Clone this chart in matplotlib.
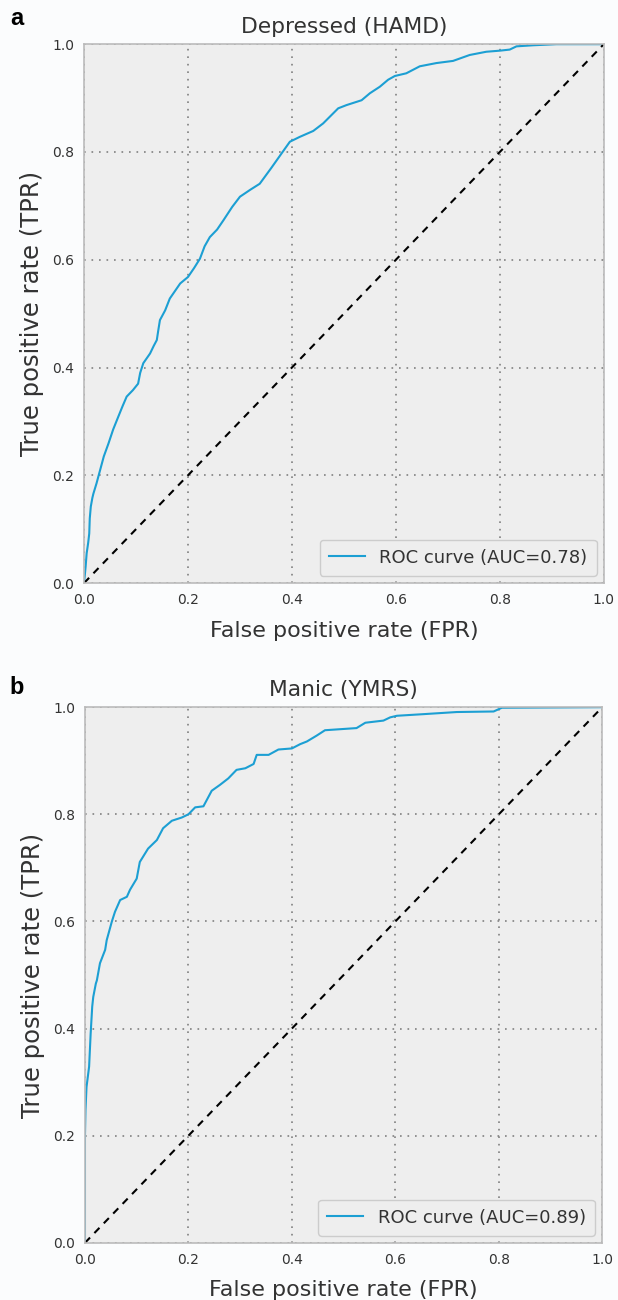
import numpy as np
import matplotlib
matplotlib.use('Agg')
import matplotlib.pyplot as plt

# ROC points
fpr_hamd = [0, 0.003, 0.005, 0.008, 0.010, 0.011, 0.013, 0.016, 0.018, 0.024, 0.031, 0.038,
            0.047, 0.056, 0.066, 0.074, 0.082, 0.094, 0.104, 0.108, 0.114, 0.127, 0.134, 0.14,
            0.143, 0.146, 0.156, 0.165, 0.185, 0.2, 0.212, 0.223, 0.232, 0.242, 0.256, 0.268,
            0.285, 0.3, 0.32, 0.338, 0.36, 0.382, 0.396, 0.415, 0.441, 0.46, 0.489, 0.505,
            0.534, 0.55, 0.569, 0.585, 0.598, 0.62, 0.646, 0.678, 0.71, 0.742, 0.774, 0.8,
            0.819, 0.832, 0.864, 0.909, 1.0]
tpr_hamd = [0, 0.03, 0.055, 0.075, 0.092, 0.12, 0.142, 0.158, 0.166, 0.185, 0.21, 0.235,
            0.259, 0.285, 0.309, 0.328, 0.346, 0.358, 0.37, 0.39, 0.408, 0.426, 0.44, 0.451,
            0.47, 0.488, 0.506, 0.528, 0.556, 0.568, 0.585, 0.602, 0.625, 0.642, 0.656, 0.673,
            0.698, 0.717, 0.73, 0.741, 0.77, 0.80, 0.819, 0.828, 0.839, 0.853, 0.881, 0.887,
            0.896, 0.909, 0.921, 0.934, 0.941, 0.946, 0.959, 0.965, 0.969, 0.98, 0.986, 0.988,
            0.99, 0.996, 0.998, 1.0, 1.0]

fpr_ymrs = [0, 0, 0.001, 0.003, 0.008, 0.011, 0.014, 0.016, 0.021, 0.023, 0.029, 0.039,
            0.042, 0.052, 0.058, 0.068, 0.081, 0.087, 0.1, 0.106, 0.122, 0.139, 0.151, 0.168,
            0.187, 0.2, 0.213, 0.229, 0.245, 0.261, 0.277, 0.293, 0.31, 0.326, 0.332, 0.355,
            0.374, 0.4, 0.416, 0.429, 0.448, 0.464, 0.525, 0.542, 0.577, 0.59, 0.603, 0.654,
            0.719, 0.79, 0.806, 1.0]
tpr_ymrs = [0, 0.2, 0.248, 0.291, 0.329, 0.391, 0.441, 0.459, 0.484, 0.49, 0.522, 0.547,
            0.565, 0.6, 0.618, 0.64, 0.646, 0.659, 0.68, 0.711, 0.736, 0.752, 0.774, 0.788,
            0.794, 0.8, 0.813, 0.815, 0.844, 0.855, 0.867, 0.883, 0.886, 0.894, 0.911, 0.911,
            0.921, 0.923, 0.931, 0.936, 0.947, 0.957, 0.961, 0.971, 0.975, 0.981, 0.984, 0.987,
            0.991, 0.992, 0.999, 1.0]

titles = ['Depressed (HAMD)', 'Manic (YMRS)']
aucs = [0.78, 0.89]
panel_tags = ['a', 'b']
ticks = [0.0, 0.2, 0.4, 0.6, 0.8, 1.0]

line_color = '#1c9fd3'
text_color = '#333333'

plt.rcParams['font.family'] = 'DejaVu Sans'
plt.rcParams['text.color'] = text_color
plt.rcParams['axes.labelcolor'] = text_color
plt.rcParams['xtick.color'] = text_color
plt.rcParams['ytick.color'] = text_color

fig = plt.figure(figsize=(6.18, 13.0), dpi=100, facecolor='#fbfcfd')

# axes rectangles in figure fraction (left, bottom, width, height)
rects = [[0.136, 0.5515, 0.841, 0.4145],
         [0.1375, 0.044, 0.837, 0.412]]
tag_y = [0.986, 0.4715]

curves = [(fpr_hamd, tpr_hamd), (fpr_ymrs, tpr_ymrs)]

for i in range(2):
    ax = fig.add_axes(rects[i])
    ax.set_facecolor('#eeeeee')
    fpr, tpr = curves[i]
    ax.plot(fpr, tpr, color=line_color, lw=1.5,
            label='ROC curve (AUC=%.2f)' % aucs[i])
    ax.plot([0, 1], [0, 1], color='k', linestyle='--', lw=1.5, dashes=(3.5, 3))
    ax.set_xlim(0, 1)
    ax.set_ylim(0, 1)
    ax.set_xticks(ticks)
    ax.set_yticks(ticks)
    ax.tick_params(length=0, labelsize=10, pad=7)
    ax.grid(True, linestyle=(0, (1, 3.5)), color='#808080', lw=1.2)
    ax.set_axisbelow(True)
    for s in ax.spines.values():
        s.set_color('#bbbbbb')
        s.set_linewidth(1.2)
    ax.set_title(titles[i], fontsize=15.7, pad=8)
    ax.set_xlabel('False positive rate (FPR)', fontsize=16, labelpad=10)
    ax.set_ylabel('True positive rate (TPR)', fontsize=17.5, labelpad=6)
    leg = ax.legend(loc='lower right', fontsize=13, framealpha=1,
                    facecolor='#eeeeee', edgecolor='#cccccc',
                    borderpad=0.5, handlelength=2.0, borderaxespad=0.4)
    fig.text(0.016, tag_y[i], panel_tags[i], fontsize=17, fontweight='bold',
             family='Liberation Sans', color='black', va='center')

plt.savefig('out.png', dpi=100, facecolor=fig.get_facecolor())
